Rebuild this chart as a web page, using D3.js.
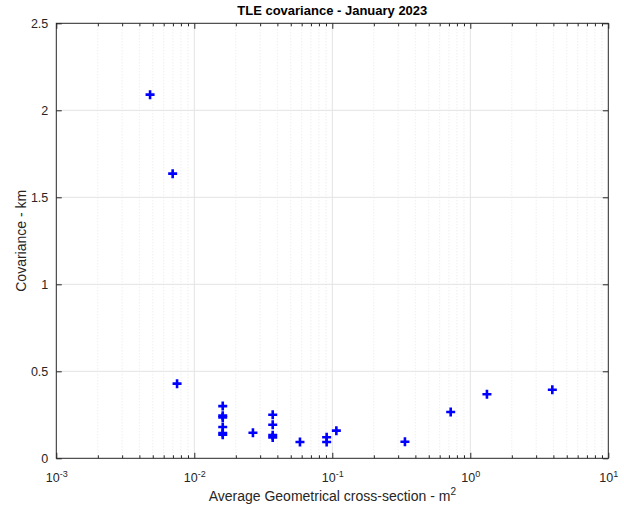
<!DOCTYPE html>
<html>
<head>
<meta charset="utf-8">
<script src="https://cdn.jsdelivr.net/npm/d3@7"></script>
<style>
  body { margin: 0; background: #fff; }
  svg text { font-family: "Liberation Sans", Arial, Helvetica, sans-serif; }
</style>
</head>
<body>
<svg id="chart" width="624" height="506"></svg>
<script>
// data (area m^2, covariance km)
const area = [0.00478, 0.00697, 0.0075,
              0.01607, 0.01607, 0.01607, 0.01607, 0.01607, 0.01607,
              0.0266,
              0.037, 0.037, 0.037, 0.037,
              0.0583, 0.091, 0.091, 0.107,
              0.336, 0.721, 1.32, 3.93];
const covariance = [2.09, 1.636, 0.429,
                    0.30, 0.245, 0.235, 0.18, 0.145, 0.135,
                    0.147,
                    0.25, 0.193, 0.133, 0.12,
                    0.094, 0.121, 0.094, 0.159,
                    0.095, 0.266, 0.368, 0.394];
const xTicks = [1e-3, 1e-2, 1e-1, 1e0, 1e1];
const yTicks = [0, 0.5, 1, 1.5, 2, 2.5];

const svg = d3.select("#chart");
const mLeft = 56.3, mRight = 608.3, mTop = 23.3, mBottom = 458.3;

const x = d3.scaleLog().domain([1e-3, 1e1]).range([mLeft, mRight]);
const y = d3.scaleLinear().domain([0, 2.5]).range([mBottom, mTop]);

// minor ticks 2..9 in every decade
let minor = [];
for (let e = -3; e < 1; e++) {
  for (let k = 2; k <= 9; k++) minor.push(k * Math.pow(10, e));
}

const grid = svg.append("g");
grid.selectAll(".mx").data(minor).enter().append("line")
  .attr("x1", d => x(d)).attr("x2", d => x(d))
  .attr("y1", mTop).attr("y2", mBottom)
  .attr("stroke", "#dcdcdc").attr("stroke-width", 0.7)
  .attr("stroke-dasharray", "1,2");
grid.selectAll(".gx").data(xTicks.slice(1, -1)).enter().append("line")
  .attr("x1", d => x(d)).attr("x2", d => x(d))
  .attr("y1", mTop).attr("y2", mBottom)
  .attr("stroke", "#e3e3e3").attr("stroke-width", 1);
grid.selectAll(".gy").data(yTicks.slice(1, -1)).enter().append("line")
  .attr("x1", mLeft).attr("x2", mRight)
  .attr("y1", d => y(d)).attr("y2", d => y(d))
  .attr("stroke", "#e3e3e3").attr("stroke-width", 1);

// axes
function styleAxis(g) {
  g.select(".domain").remove();
  g.selectAll("line").attr("stroke", "#262626");
  g.selectAll("text").attr("fill", "#262626").attr("font-size", 12.5);
}

const xAxis = svg.append("g").attr("transform", `translate(0,${mBottom})`)
  .call(d3.axisBottom(x).tickValues(xTicks).tickSize(-5.5).tickPadding(12).tickFormat(() => ""));
styleAxis(xAxis);
xAxis.selectAll(".tick text").each(function(d) {
  const t = d3.select(this);
  t.append("tspan").text("10");
  t.append("tspan").attr("dy", -5).attr("font-size", 9)
    .text(String(Math.round(Math.log10(d))));
});
xAxis.selectAll(".tick text").attr("dy", "0.9em");

const xMinorB = svg.append("g").attr("transform", `translate(0,${mBottom})`)
  .call(d3.axisBottom(x).tickValues(minor).tickSize(-3).tickFormat(() => ""));
styleAxis(xMinorB);
const xTop = svg.append("g").attr("transform", `translate(0,${mTop})`)
  .call(d3.axisTop(x).tickValues(xTicks).tickSize(-5.5).tickFormat(() => ""));
styleAxis(xTop);
const xMinorT = svg.append("g").attr("transform", `translate(0,${mTop})`)
  .call(d3.axisTop(x).tickValues(minor).tickSize(-3).tickFormat(() => ""));
styleAxis(xMinorT);

const yAxis = svg.append("g").attr("transform", `translate(${mLeft},0)`)
  .call(d3.axisLeft(y).tickValues(yTicks).tickSize(-5.5).tickPadding(8).tickFormat(d3.format("")));
styleAxis(yAxis);
const yRight = svg.append("g").attr("transform", `translate(${mRight},0)`)
  .call(d3.axisRight(y).tickValues(yTicks).tickSize(-5.5).tickFormat(() => ""));
styleAxis(yRight);

svg.append("rect")
  .attr("x", mLeft).attr("y", mTop)
  .attr("width", mRight - mLeft).attr("height", mBottom - mTop)
  .attr("fill", "none").attr("stroke", "#262626").attr("stroke-width", 1);

// plus markers
const pts = area.map((a, i) => ({ a: a, c: covariance[i] }));
const s = 4.5;
const marks = svg.append("g").attr("stroke", "#0000ff").attr("stroke-width", 2.6);
marks.selectAll("path").data(pts).enter().append("path")
  .attr("d", d => {
    const px = x(d.a), py = y(d.c);
    return `M${px - s},${py}H${px + s}M${px},${py - s}V${py + s}`;
  });

// titles
svg.append("text").attr("x", (mLeft + mRight) / 2).attr("y", 15)
  .attr("text-anchor", "middle").attr("font-size", 13).attr("font-weight", "bold")
  .attr("fill", "#000").text("TLE covariance - January 2023");

const xl = svg.append("text").attr("x", (mLeft + mRight) / 2).attr("y", 501)
  .attr("text-anchor", "middle").attr("font-size", 14).attr("fill", "#262626");
xl.append("tspan").text("Average Geometrical cross-section - m");
xl.append("tspan").attr("dy", -6).attr("font-size", 10).text("2");

svg.append("text")
  .attr("transform", `translate(26,${(mTop + mBottom) / 2}) rotate(-90)`)
  .attr("text-anchor", "middle").attr("font-size", 14).attr("fill", "#262626")
  .text("Covariance - km");
</script>
</body>
</html>
